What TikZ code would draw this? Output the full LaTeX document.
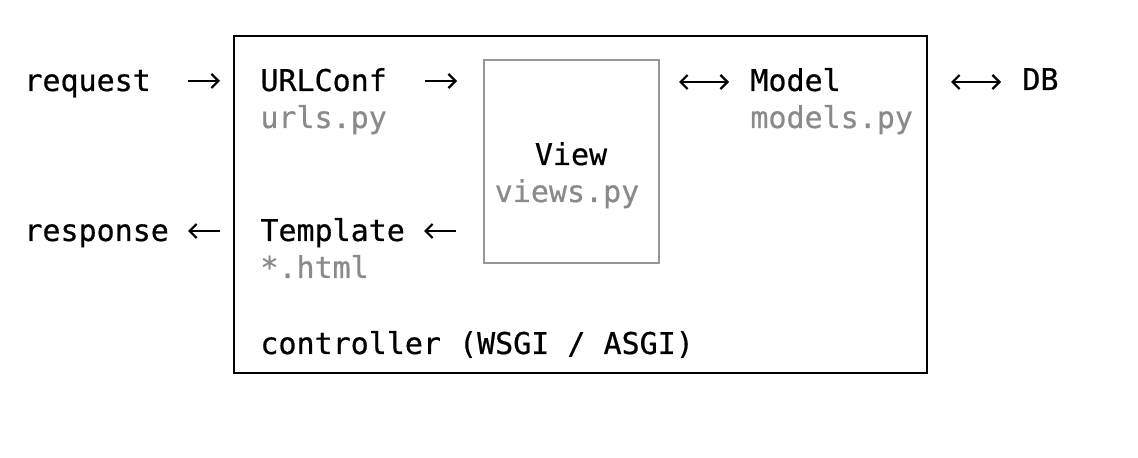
\documentclass[tikz,border=0pt]{standalone}
\usepackage{fontspec}
\setmonofont[FakeBold=0.6]{DejaVu Sans Mono}
\usepackage{xcolor}
\usepackage{tikz}
\usetikzlibrary{positioning,arrows.meta}
\definecolor{filegray}{RGB}{138,138,138}
\definecolor{boxgray}{RGB}{150,150,150}

\begin{document}
\begin{tikzpicture}[x=0.5pt,y=-0.5pt]
	\tikzset{
		lbl/.style={anchor=base west, inner sep=0pt,
			font=\ttfamily\fontsize{15}{18}\selectfont},
		file/.style={lbl, text=filegray},
		flow/.style={-{Straight Barb[length=3.5pt,width=7pt]},
			line width=1.1pt},
		both/.style={{Straight Barb[length=3.5pt,width=7pt]}-{Straight Barb[length=3.5pt,width=7pt]},
			line width=1.1pt}
	}
	\useasboundingbox (0,0) rectangle (1138,458);
	
	% boxes
	\node[draw, line width=1.3pt, inner sep=0pt,
		minimum width=346.5pt, minimum height=168.5pt] (frame) at (580.5,204.5) {};
	\node[draw=boxgray, line width=1.1pt, inner sep=0pt,
		minimum width=87.5pt, minimum height=101.5pt] (viewbox) at (571.5,161.5) {};
	
	% outside
	\node[lbl] (req) at (24,91) {request};
	\node[lbl] (resp) at (24,241) {response};
	\node[lbl] (db) at (1022,90) {DB};
	
	% inside
	\node[lbl] (urlconf) at (260,91) {URLConf};
	\node[file] (urlsfile) at (260,128) {urls.py};
	\node[lbl] (tmpl) at (260,241) {Template};
	\node[file] (htmlfile) at (260,278) {*.html};
	\node[lbl] (model) at (750,91) {Model};
	\node[file] (modelsfile) at (750,128) {models.py};
	\node[lbl, anchor=base] (view) at (571,165) {View};
	\node[file, anchor=base] (viewsfile) at (567,202) {views.py};
	\node[lbl] (ctrl) at (260,354) {controller (WSGI / ASGI)};
	
	% arrows
	\coordinate (a1) at (188,81);  \coordinate (b1) at (220,81);
	\coordinate (a2) at (425,81);  \coordinate (b2) at (457,81);
	\coordinate (a3) at (679,82);  \coordinate (b3) at (729,82);
	\coordinate (a4) at (951,82);  \coordinate (b4) at (1001,82);
	\coordinate (a5) at (220,231); \coordinate (b5) at (188,231);
	\coordinate (a6) at (456,231); \coordinate (b6) at (424,231);
	
	\draw[flow] (a1) -- (b1);
	\draw[flow] (a2) -- (b2);
	\draw[both] (a3) -- (b3);
	\draw[both] (a4) -- (b4);
	\draw[flow] (a5) -- (b5);
	\draw[flow] (a6) -- (b6);
\end{tikzpicture}
\end{document}
